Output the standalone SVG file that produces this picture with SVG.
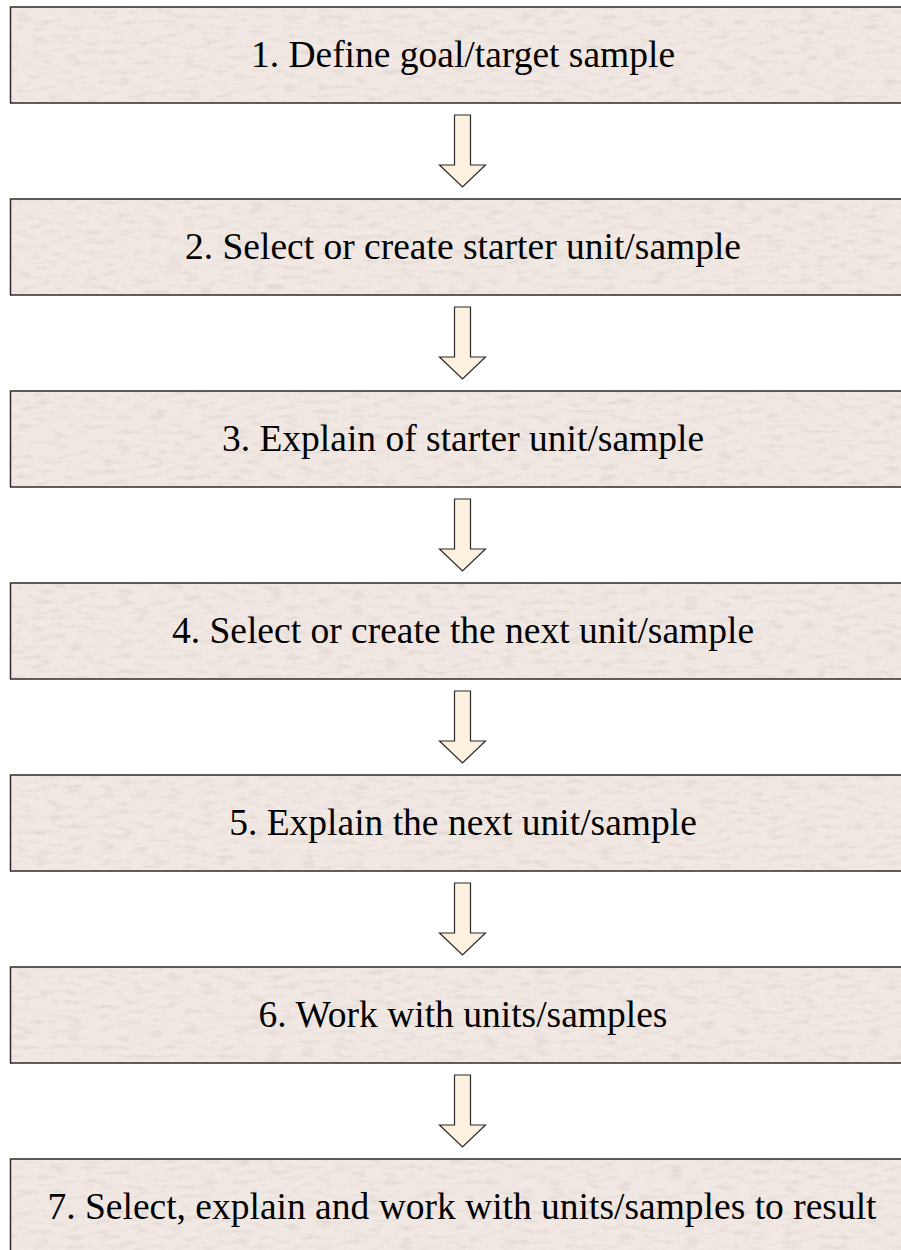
<svg xmlns="http://www.w3.org/2000/svg" width="901" height="1250" viewBox="0 0 901 1250">
<style>
.box{fill:#F1E8E3;stroke:#2b2b2b;stroke-width:1.5}
.tex{fill:#000;filter:url(#paper);opacity:0.3}
.lbl{font-size:37.5px;fill:#000;text-anchor:middle}
.arr{fill:#FCF0DE;stroke:#2b2b2b;stroke-width:1.2;stroke-linejoin:miter}
</style>
<defs>
<filter id="paper" x="0" y="0" width="100%" height="100%">
<feTurbulence type="fractalNoise" baseFrequency="0.06 0.2" numOctaves="4" seed="7" result="n"/>
<feColorMatrix in="n" type="matrix" values="0 0 0 0 0.55  0 0 0 0 0.48  0 0 0 0 0.45  0 0 0 -2.5 1.3" result="c"/>
<feComposite in="c" in2="SourceGraphic" operator="in"/>
</filter>
<path id="arrow" class="arr" d="M0,0 H16 V50 H31 L8,72 L-15,50 H0 Z"/>
</defs>
<rect width="901" height="1250" fill="#fff"/>
<g id="node1"><rect class="box" x="10.5" y="7" width="906" height="96"/><rect class="tex" x="11.5" y="8" width="890" height="94"/><text class="lbl" font-family="Liberation Serif, Times New Roman, serif" x="463" y="67">1. Define goal/target sample</text></g>
<g id="node2"><rect class="box" x="10.5" y="199" width="906" height="96"/><rect class="tex" x="11.5" y="200" width="890" height="94"/><text class="lbl" font-family="Liberation Serif, Times New Roman, serif" x="463" y="259">2. Select or create starter unit/sample</text></g>
<g id="node3"><rect class="box" x="10.5" y="391" width="906" height="96"/><rect class="tex" x="11.5" y="392" width="890" height="94"/><text class="lbl" font-family="Liberation Serif, Times New Roman, serif" x="463" y="451">3. Explain of starter unit/sample</text></g>
<g id="node4"><rect class="box" x="10.5" y="583" width="906" height="96"/><rect class="tex" x="11.5" y="584" width="890" height="94"/><text class="lbl" font-family="Liberation Serif, Times New Roman, serif" x="463" y="643">4. Select or create the next unit/sample</text></g>
<g id="node5"><rect class="box" x="10.5" y="775" width="906" height="96"/><rect class="tex" x="11.5" y="776" width="890" height="94"/><text class="lbl" font-family="Liberation Serif, Times New Roman, serif" x="463" y="835">5. Explain the next unit/sample</text></g>
<g id="node6"><rect class="box" x="10.5" y="967" width="906" height="96"/><rect class="tex" x="11.5" y="968" width="890" height="94"/><text class="lbl" font-family="Liberation Serif, Times New Roman, serif" x="463" y="1027">6. Work with units/samples</text></g>
<g id="node7"><rect class="box" x="10.5" y="1159" width="906" height="96"/><rect class="tex" x="11.5" y="1160" width="890" height="94"/><text class="lbl" font-family="Liberation Serif, Times New Roman, serif" x="462" y="1219">7. Select, explain and work with units/samples to result</text></g>
<g id="connectors">
<use href="#arrow" x="454.5" y="115"/>
<use href="#arrow" x="454.5" y="307"/>
<use href="#arrow" x="454.5" y="499"/>
<use href="#arrow" x="454.5" y="691"/>
<use href="#arrow" x="454.5" y="883"/>
<use href="#arrow" x="454.5" y="1075"/>
</g>
</svg>
